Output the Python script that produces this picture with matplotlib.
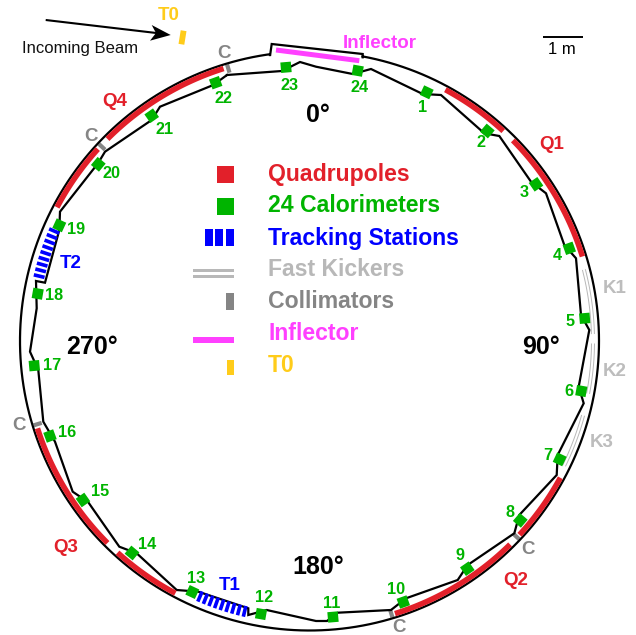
import numpy as np
import matplotlib
matplotlib.use("Agg")
import matplotlib.pyplot as plt
from matplotlib.patches import Polygon, Rectangle

plt.rcParams['font.family'] = ['Liberation Sans', 'DejaVu Sans']

RED = '#e2202a'; GREEN = '#00b400'; BLUE = '#0000ff'; MAGENTA = '#ff40ff'
YELLOW = '#ffcc1a'; GREY = '#858585'; LGREY = '#b8b8b8'

ring_center = (309.5, 341.0)
ring_radius = 289.5
ring_open_deg = (10.6, 352.1)
notch_x = [270.0, 271.7, 362.7, 362.7]
notch_y = [56.0, 44.0, 54.0, 57.3]

inner_x = [227, 282, 300, 316, 352.7, 371, 422.7, 441, 484.3, 499.3, 531, 546, 564.3, 576,
           581, 589.3, 578.7, 583.7, 557.7, 556.7, 519.3, 514.3, 467.7, 457.7, 406, 391,
           337.7, 327, 316, 266.7, 248.3, 248.3, 198.3, 176.7, 136.7, 119.3, 88.3, 72.7,
           55, 43.3, 38.3, 30, 36.7, 36, 45, 59.3, 60, 98, 105, 151.7, 160, 213.3, 227]
inner_y = [75, 71, 62, 66.7, 74, 69, 94, 95, 133.3, 136, 181.7, 193.3, 245, 258.3,
           315, 330, 386.7, 403.3, 455, 475, 515, 533.3, 565, 580, 598.3, 610,
           612.7, 621, 621, 610, 615, 608.3, 591.7, 590, 553.3, 546.7, 502.3, 491.7,
           441.7, 421.7, 370, 351.7, 308.3, 281, 282.7, 230, 211.7, 163.3, 151.7, 120, 106.7, 85, 75]

calo_x = [426.7, 487.3, 536, 569.3, 584.7, 581.3, 559.7, 520.3, 467.3, 403.3, 333, 261,
          192.3, 132, 83, 50, 34.3, 37.7, 59.3, 98.3, 151.7, 215.7, 286, 357.7]
calo_y = [92.3, 131, 184.3, 248.3, 318.3, 391, 459.3, 520.3, 568.7, 602, 617, 614,
          592, 553, 500, 436, 365.7, 293.7, 225.3, 164.3, 115.7, 82.7, 67.3, 70.7]
calo_label_x = [423, 480.7, 524.3, 557, 570, 569.3, 548, 510.3, 459.7, 395.7, 331.7, 264,
                196.3, 146.7, 100.3, 66.7, 51.7, 54.3, 75.7, 111.3, 164.3, 223.3, 289.7, 359.3]
calo_label_y = [107, 142.7, 192.3, 255, 322, 391.7, 455.7, 512.7, 556, 589.7, 603.7, 597.7,
                578.7, 544.3, 491, 432.3, 366, 296, 230, 173.3, 129.3, 98.3, 85.7, 87.3]

quad_start_deg = [28.4, 45.4, 118.6, 135.4, 208.0, 225.0, 297.9, 315.0]
quad_end_deg = [42.7, 72.8, 132.7, 162.6, 222.2, 252.2, 312.2, 342.5]
quad_radius = 285.7

coll_deg = [343.4, 313.1, 133.4, 163.3, 253.0]
coll_r = (280.0, 288.5)

kick_start_deg = [75.5, 90.6, 105.3]
kick_end_deg = [88.5, 100.6, 116.0]
kick_r = (282.0, 285.0)

track_start_deg = [193.5, 283.5]
track_end_deg = [203.2, 293.3]
track_counts = [9, 9]
track_r = (272.5, 283.5)

inflector_x = [276, 359.3]
inflector_y = [50, 60.7]
t0_x = [183.6, 181.4]
t0_y = [30.7, 44.3]
beam_x = [45.7, 158]
beam_y = [20, 33.2]
head_x = [170.7, 150, 156, 151.7]
head_y = [35, 40.7, 33, 25]
scale_x = [543.3, 582.7]
scale_y = [37.3, 37.3]

legend_names = ['Quadrupoles', '24 Calorimeters', 'Tracking Stations', 'Fast Kickers',
                'Collimators', 'Inflector', 'T0']
legend_colors = [RED, GREEN, BLUE, LGREY, GREY, MAGENTA, YELLOW]
legend_y = [175, 206, 238, 270, 301, 333, 366]

red_labels = [('Q1', 552, 144.3), ('Q2', 515.3, 580.7), ('Q3', 65.7, 547.3), ('Q4', 115, 101.3)]
blue_labels = [('T1', 229.3, 586), ('T2', 71, 263.3)]
grey_labels = [('C', 223.7, 53.3), ('C', 91, 136.7), ('C', 528, 549), ('C', 399.3, 627.5), ('C', 19.3, 426)]
kick_labels = [('K1', 614.3, 288.3), ('K2', 614.3, 371.7), ('K3', 601.7, 442.3)]
angle_labels = [('0°', 318, 115), ('90°', 541, 347), ('180°', 318, 567), ('270°', 92, 347)]

fig = plt.figure(figsize=(6.36, 6.35), dpi=100)
ax = fig.add_axes([0, 0, 1, 1])
ax.set_xlim(0, 636); ax.set_ylim(635, 0); ax.axis('off')


def pol(deg, r):
    t = np.radians(deg)
    return ring_center[0] + r*np.sin(t), ring_center[1] - r*np.cos(t)


def rotated_rect(x, y, w, h, deg, color, z):
    t = np.radians(deg)
    ux, uy = np.cos(t), np.sin(t)
    vx, vy = -uy, ux
    pts = [(x + a*ux*w/2 + b*vx*h/2, y + a*uy*w/2 + b*vy*h/2)
           for a, b in [(-1, -1), (1, -1), (1, 1), (-1, 1)]]
    ax.add_patch(Polygon(pts, closed=True, fc=color, ec='none', zorder=z))


# ring
th = np.linspace(ring_open_deg[0], ring_open_deg[1], 500)
rx, ry = pol(th, ring_radius)
ax.plot(list(rx) + notch_x, list(ry) + notch_y, color='k', lw=1.6, zorder=3, solid_joinstyle='miter')
ax.plot(inner_x, inner_y, color='k', lw=1.6, zorder=3, solid_joinstyle='miter')

# quadrupoles
for a, b in zip(quad_start_deg, quad_end_deg):
    th = np.linspace(a, b, 60)
    x, y = pol(th, quad_radius)
    ax.plot(x, y, color=RED, lw=4.0, solid_capstyle='butt', zorder=4)

# collimators
for a in coll_deg:
    x, y = pol(np.array([a, a]), np.array(coll_r))
    ax.plot(x, y, color=GREY, lw=3.0, solid_capstyle='butt', zorder=2)

# kickers
for a, b in zip(kick_start_deg, kick_end_deg):
    th = np.linspace(a, b, 40)
    for r in kick_r:
        x, y = pol(th, r)
        ax.plot(x, y, color=LGREY, lw=0.7, zorder=2)

# trackers
for a, b, n in zip(track_start_deg, track_end_deg, track_counts):
    for t in np.linspace(a, b, n):
        x, y = pol(np.array([t, t]), np.array(track_r))
        ax.plot(x, y, color=BLUE, lw=2.6, solid_capstyle='butt', zorder=5)

# calorimeters
for x, y, lx, ly, n in zip(calo_x, calo_y, calo_label_x, calo_label_y, range(1, 25)):
    d = np.degrees(np.arctan2(y - ring_center[1], x - ring_center[0]))
    rotated_rect(x, y, 10.5, 10.5, d, GREEN, 6)
    ax.text(lx, ly, str(n), color=GREEN, fontsize=11.7, fontweight='bold', ha='center', va='center')

# inflector, T0
ax.plot(inflector_x, inflector_y, color=MAGENTA, lw=3.6, solid_capstyle='butt', zorder=4)
ax.plot(t0_x, t0_y, color=YELLOW, lw=4.2, solid_capstyle='butt', zorder=4)

# beam arrow
ax.plot(beam_x, beam_y, color='k', lw=1.5, solid_capstyle='butt')
ax.add_patch(Polygon(list(zip(head_x, head_y)), closed=True, fc='k', ec='none'))
ax.text(80, 48.7, 'Incoming Beam', fontsize=12, color='#111111', ha='center', va='center')

# scale bar
ax.plot(scale_x, scale_y, color='k', lw=1.4, solid_capstyle='butt')
ax.text(562, 50, '1 m', fontsize=12, color='k', ha='center', va='center')

# legend glyphs
ax.add_patch(Rectangle((217, 166), 17, 17, fc=RED, ec='none'))
ax.add_patch(Rectangle((217, 198), 17, 17, fc=GREEN, ec='none'))
for x0, w in [(205, 7.7), (215.3, 7.4), (226, 8)]:
    ax.add_patch(Rectangle((x0, 229.3), w, 16.7, fc=BLUE, ec='none'))
for y in (270, 276):
    ax.add_patch(Rectangle((193.3, y - 1.5), 40.7, 3, fc=LGREY, ec='none'))
ax.add_patch(Rectangle((225.7, 293.3), 8.3, 16.7, fc=GREY, ec='none'))
ax.add_patch(Rectangle((193.3, 337), 40.7, 6, fc=MAGENTA, ec='none'))
ax.add_patch(Rectangle((227, 360), 7, 15, fc=YELLOW, ec='none'))
for name, c, y in zip(legend_names, legend_colors, legend_y):
    ax.text(268, y, name, color=c, fontsize=16.6, fontweight='bold', ha='left', va='center')

# other labels
for group, c, fs in [(red_labels, RED, 13.5), (blue_labels, BLUE, 13.5), (grey_labels, GREY, 13.5),
                     (kick_labels, '#bdbdbd', 13.5)]:
    for s, x, y in group:
        ax.text(x, y, s, color=c, fontsize=fs, fontweight='bold', ha='center', va='center')
ax.text(169, 15.7, 'T0', color=YELLOW, fontsize=13.5, fontweight='bold', ha='center', va='center')
ax.text(379.3, 43.3, 'Inflector', color=MAGENTA, fontsize=13.5, fontweight='bold', ha='center', va='center')
for s, x, y in angle_labels:
    ax.text(x, y, s, color='k', fontsize=18, fontweight='bold', ha='center', va='center')

fig.savefig('out.png', dpi=100)
